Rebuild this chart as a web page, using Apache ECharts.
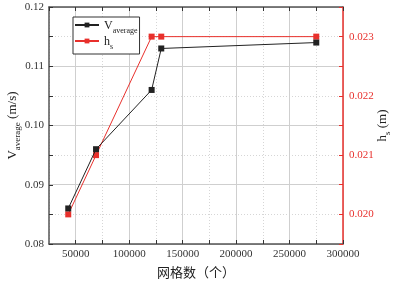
<!DOCTYPE html>
<html>
<head>
<meta charset="utf-8">
<script src="https://cdn.jsdelivr.net/npm/echarts@6/dist/echarts.min.js"></script>
<style>
  html, body { margin: 0; padding: 0; background: #fff; }
  #chart { width: 393px; height: 281px; }
</style>
</head>
<body>
<div id="chart"></div>
<script>
// 网格数
const meshCounts = [43000, 69000, 121000, 130000, 275000];
// V_average (m/s)
const vAverage = [0.086, 0.096, 0.106, 0.113, 0.114];
// h_s (m)
const hs = [0.0200, 0.0210, 0.0230, 0.0230, 0.0230];

const RED = "#e8302c";
const SERIF = "Liberation Serif";
const CJK = "Noto Sans CJK SC";

let myChart = echarts.init(document.getElementById("chart"));

const legendRich = {
  m: { fontFamily: SERIF, fontSize: 12, color: "#222", verticalAlign: "bottom", lineHeight: 14 },
  s: { fontFamily: SERIF, fontSize: 8, color: "#222", verticalAlign: "bottom", lineHeight: 14, padding: [0, 0, -3, 0] }
};
const nameRich = {
  m: { fontFamily: SERIF, fontSize: 13, color: "#222", verticalAlign: "bottom", lineHeight: 16 },
  s: { fontFamily: SERIF, fontSize: 9, color: "#222", verticalAlign: "bottom", lineHeight: 16, padding: [0, 0, -3, 0] }
};

function xLabel(v) {
  return v % 50000 === 0 ? String(v) : "";
}

let option = {
  animation: false,
  grid: { left: 49, right: 50, top: 7, bottom: 37, containLabel: false, outerBoundsMode: "none" },
  legend: {
    left: 73,
    top: 17,
    orient: "vertical",
    itemWidth: 24,
    itemHeight: 6,
    itemGap: 1,
    padding: [3, 2, 3, 1],
    borderColor: "#333",
    borderWidth: 1,
    backgroundColor: "#fff",
    data: ["V_average", "h_s"],
    formatter: function (name) {
      return name === "V_average" ? "{m|V}{s|average}" : "{m|h}{s|s}";
    },
    textStyle: { rich: legendRich }
  },
  xAxis: [
    {
      type: "value",
      min: 25000,
      max: 300000,
      interval: 25000,
      position: "bottom",
      name: "网格数（个）",
      nameLocation: "middle",
      nameGap: 22,
      nameMoveOverlap: false,
      nameTextStyle: { fontFamily: CJK, fontSize: 13, color: "#222" },
      axisLine: { show: true, lineStyle: { color: "#555", width: 1.5 } },
      axisTick: { show: true, inside: true, length: 4, lineStyle: { color: "#333" } },
      axisLabel: {
        formatter: xLabel,
        fontFamily: SERIF,
        fontSize: 11,
        color: "#333",
        margin: 5,
        showMinLabel: false
      },
      splitLine: {
        show: true,
        lineStyle: { color: ["#d6d6d6", "rgba(0,0,0,0)"], type: [1, 2], width: 1 }
      }
    },
    {
      type: "value",
      min: 25000,
      max: 300000,
      interval: 25000,
      position: "top",
      axisLine: { show: true, lineStyle: { color: "#555", width: 1.5 } },
      axisTick: { show: true, inside: true, length: 4, lineStyle: { color: "#333" } },
      axisLabel: { show: false },
      splitLine: {
        show: true,
        lineStyle: { color: ["rgba(0,0,0,0)", "#cfcfcf"], width: 1 }
      }
    }
  ],
  yAxis: [
    {
      type: "value",
      min: 0.08,
      max: 0.12,
      interval: 0.005,
      position: "left",
      name: "{m|V}{s|average}{m| (m/s)}",
      nameLocation: "middle",
      nameRotate: 90,
      nameGap: 30,
      nameMoveOverlap: false,
      nameTextStyle: { rich: nameRich },
      axisLine: { show: true, lineStyle: { color: "#555", width: 1.5 } },
      axisTick: { show: true, inside: true, length: 4, lineStyle: { color: "#333" } },
      axisLabel: {
        formatter: function (v) {
          return Math.round(v * 1000) % 10 === 0 ? v.toFixed(2) : "";
        },
        fontFamily: SERIF,
        fontSize: 11,
        color: "#333",
        margin: 5
      },
      splitLine: {
        show: true,
        lineStyle: { color: ["rgba(0,0,0,0)", "#d6d6d6"], type: [1, 2], width: 1 }
      }
    },
    {
      type: "value",
      min: 0.0195,
      max: 0.0235,
      interval: 0.0005,
      position: "right",
      name: "{m|h}{s|s}{m| (m)}",
      nameLocation: "middle",
      nameRotate: 90,
      nameGap: 30,
      nameMoveOverlap: false,
      nameTextStyle: { rich: nameRich },
      axisLine: { show: true, lineStyle: { color: RED, width: 1.5 } },
      axisTick: { show: true, inside: true, length: 4, lineStyle: { color: RED } },
      axisLabel: {
        formatter: function (v) {
          return Math.round(v * 10000) % 10 === 0 ? v.toFixed(3) : "";
        },
        fontFamily: SERIF,
        fontSize: 11,
        color: RED,
        margin: 6
      },
      splitLine: {
        show: true,
        lineStyle: { color: ["#cfcfcf", "rgba(0,0,0,0)"], width: 1 }
      }
    }
  ],
  series: [
    {
      name: "V_average",
      type: "line",
      xAxisIndex: 0,
      yAxisIndex: 0,
      symbol: "rect",
      symbolSize: 6,
      itemStyle: { color: "#222" },
      lineStyle: { color: "#222", width: 1 },
      data: meshCounts.map((x, i) => [x, vAverage[i]]),
      z: 3
    },
    {
      name: "h_s",
      type: "line",
      xAxisIndex: 0,
      yAxisIndex: 1,
      symbol: "rect",
      symbolSize: 6,
      itemStyle: { color: RED },
      lineStyle: { color: RED, width: 1 },
      data: meshCounts.map((x, i) => [x, hs[i]]),
      z: 2
    }
  ]
};

myChart.setOption(option);
</script>
</body>
</html>
